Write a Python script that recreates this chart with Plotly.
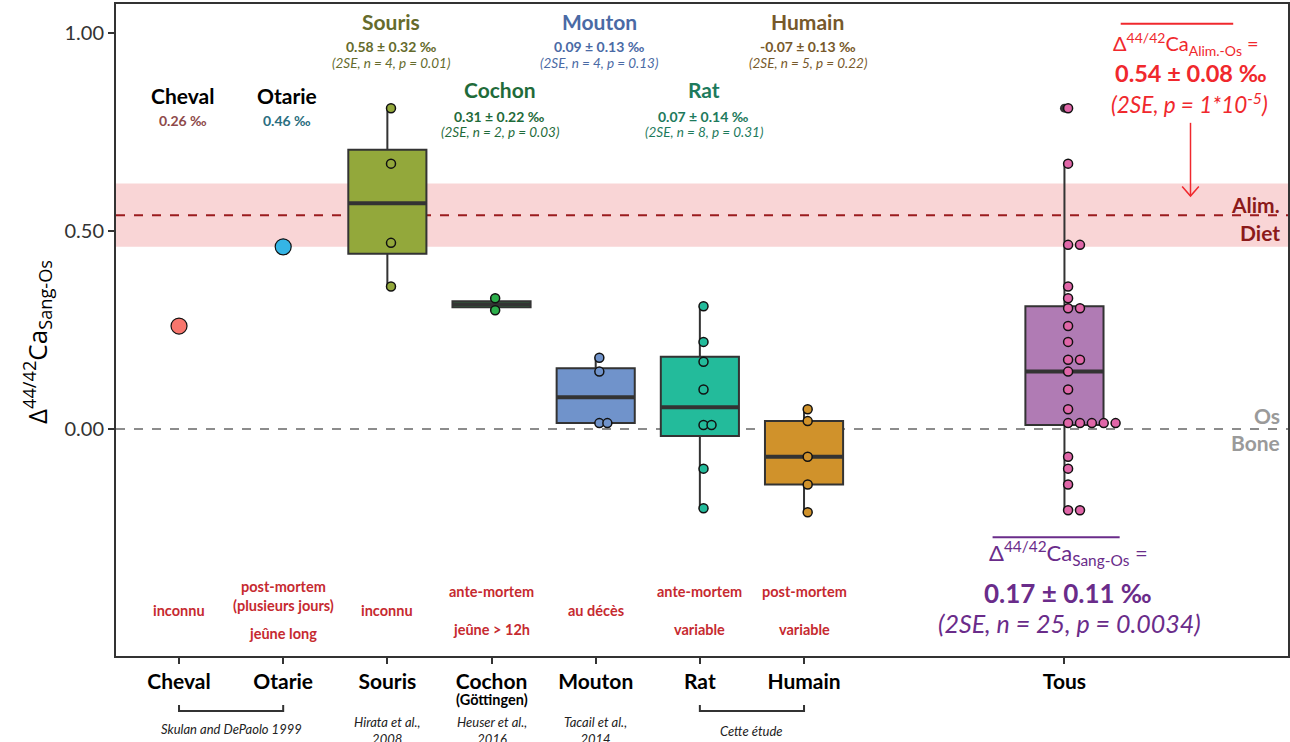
import numpy as np
import plotly.graph_objects as go

FONT = "Lato"

# categories and positions on the x axis
categories = ["Cheval", "Otarie", "Souris", "Cochon", "Mouton", "Rat", "Humain"]
positions = [1, 2, 3, 4, 5, 6, 7]
tous_position = 9.5

# Delta 44/42 Ca blood - bone values (permil)
cheval = [0.26]
otarie = [0.46]
souris = [0.81, 0.67, 0.47, 0.36]
cochon = [0.33, 0.30]
mouton = [0.18, 0.145, 0.015, 0.015]
rat = [0.31, 0.22, 0.17, 0.10, 0.01, 0.01, -0.10, -0.20]
humain = [0.05, 0.02, -0.07, -0.14, -0.21]
tous = cheval + otarie + souris + cochon + mouton + rat + humain

# diet - bone offset
diet_mean = 0.54
diet_2se = 0.08

# text above each group
group_means = ["0.26 ‰", "0.46 ‰", "0.58 ± 0.32 ‰", "0.31 ± 0.22 ‰",
               "0.09 ± 0.13 ‰", "0.07 ± 0.14 ‰", "-0.07 ± 0.13 ‰"]
group_stats = ["", "", "(2SE, n = 4, p = 0.01)", "(2SE, n = 2, p = 0.03)",
               "(2SE, n = 4, p = 0.13)", "(2SE, n = 8, p = 0.31)", "(2SE, n = 5, p = 0.22)"]
title_colors = ["#000000", "#000000", "#656b2c", "#1f6b3a", "#4a6aa5", "#1d7a5c", "#77592b"]
stat_colors = ["#8e4a4a", "#2a6e80", "#656b2c", "#1f6b3a", "#4a6aa5", "#1d7a5c", "#77592b"]
# 0 = upper row, 1 = lower row, 2 = single values
title_row = [2, 2, 0, 1, 0, 1, 0]

# conditions (bottom of the plot)
cond_top = ["", "post-mortem<br>(plusieurs jours)", "", "ante-mortem", "", "ante-mortem", "post-mortem"]
cond_mid = ["inconnu", "", "inconnu", "", "au décès", "", ""]
cond_bottom = ["", "jeûne long", "", "jeûne > 12h", "", "variable", "variable"]

tick_text = ["Cheval", "Otarie", "Souris", "Cochon", "Mouton", "Rat", "Humain", "Tous"]

box_fill = {"Souris": "#93a83b", "Cochon": "#2caf4b", "Mouton": "#7093cb",
            "Rat": "#23bb9b", "Humain": "#d0922b"}
point_color = {"Cheval": "#f8766d", "Otarie": "#35b5e5", "Souris": "#93a83b", "Cochon": "#2caf4b",
               "Mouton": "#7093cb", "Rat": "#23bb9b", "Humain": "#d0922b"}
TOUS_BOX = "#b07bb4"
TOUS_POINT = "#e066a8"
DARK = "#333333"
COND_RED = "#c62a30"
ALIM_RED = "#f0282d"
PURPLE = "#6a2c8a"

data = {"Cheval": cheval, "Otarie": otarie, "Souris": souris, "Cochon": cochon,
        "Mouton": mouton, "Rat": rat, "Humain": humain}


def box_stats(values):
    v = np.asarray(values)
    q1, med, q3 = np.percentile(v, [25, 50, 75])
    iqr = q3 - q1
    lo = v[v >= q1 - 1.5 * iqr].min()
    hi = v[v <= q3 + 1.5 * iqr].max()
    out = v[(v < lo) | (v > hi)]
    return q1, med, q3, lo, hi, out


def dot_positions(values, center, step, binwidth=0.0125):
    # simple dotplot stacking: close values are put side by side
    vals = sorted(values)
    xs, ys = [], []
    i = 0
    while i < len(vals):
        j = i
        while j + 1 < len(vals) and vals[j + 1] < vals[i] + binwidth:
            j += 1
        grp = vals[i:j + 1]
        yc = (grp[0] + grp[-1]) / 2
        for k in range(len(grp)):
            xs.append(center + 0.035 + k * step)
            ys.append(yc)
        i = j + 1
    return xs, ys


fig = go.Figure()
box_width = 0.75


def add_box(pos, values, fill):
    q1, med, q3, lo, hi, out = box_stats(values)
    fig.add_trace(go.Box(x=[pos], q1=[q1], median=[med], q3=[q3],
                         lowerfence=[lo], upperfence=[hi], width=box_width,
                         fillcolor=fill, line=dict(color=DARK, width=2),
                         boxpoints=False, whiskerwidth=0,
                         showlegend=False, hoverinfo="skip"))
    fig.add_trace(go.Scatter(x=[pos - box_width / 2, pos + box_width / 2], y=[med, med],
                             mode="lines", line=dict(color=DARK, width=4),
                             showlegend=False, hoverinfo="skip"))
    if len(out):
        fig.add_trace(go.Scatter(x=[pos] * len(out), y=out, mode="markers",
                                 marker=dict(color=DARK, size=9),
                                 showlegend=False, hoverinfo="skip"))


for name, pos in zip(categories, positions):
    if name in box_fill:
        add_box(pos, data[name], box_fill[name])
add_box(tous_position, tous, TOUS_BOX)

# points
for name, pos in zip(categories, positions):
    vals = data[name]
    if len(vals) == 1:
        fig.add_trace(go.Scatter(x=[pos], y=vals, mode="markers",
                                 marker=dict(color=point_color[name], size=16,
                                             line=dict(color="#111111", width=1.2)),
                                 showlegend=False))
    else:
        xs, ys = dot_positions(vals, pos, 0.077)
        fig.add_trace(go.Scatter(x=xs, y=ys, mode="markers",
                                 marker=dict(color=point_color[name], size=9,
                                             line=dict(color="#111111", width=1.5)),
                                 showlegend=False))

xs, ys = dot_positions(tous, tous_position, 0.114)
fig.add_trace(go.Scatter(x=xs, y=ys, mode="markers",
                         marker=dict(color=TOUS_POINT, size=9, line=dict(color="#111111", width=1.5)),
                         showlegend=False))

# diet band and reference lines
fig.add_shape(type="rect", xref="paper", yref="y", x0=0, x1=1,
              y0=diet_mean - diet_2se, y1=diet_mean + diet_2se,
              fillcolor="#f9d5d6", line=dict(width=0), layer="below")
fig.add_shape(type="line", xref="paper", yref="y", x0=0, x1=1, y0=diet_mean, y1=diet_mean,
              line=dict(color="#9b1b1e", width=2, dash="dash"), layer="below")
fig.add_shape(type="line", xref="paper", yref="y", x0=0, x1=1, y0=0, y1=0,
              line=dict(color="#8c8c8c", width=2, dash="dash"), layer="below")

ann = []


def txt(x, y, text, size, color, bold=False, italic=False, xanchor="center", family=FONT, **kw):
    if bold:
        text = "<b>" + text + "</b>"
    if italic:
        text = "<i>" + text + "</i>"
    d = dict(x=x, y=y, text=text, showarrow=False, xanchor=xanchor, yanchor="middle",
             font=dict(family=family, size=size, color=color))
    d.update(kw)
    ann.append(d)


# titles and stats above groups
row_y = {0: (1.028, 0.965, 0.924), 1: (0.856, 0.790, 0.751), 2: (0.841, 0.778, None)}
for i, name in enumerate(categories):
    ty, my, sy = row_y[title_row[i]]
    xo = positions[i] + (0.077 if name == "Cochon" else 0.035)
    txt(xo, ty, name, 21, title_colors[i], bold=True)
    txt(xo, my, group_means[i], 14, stat_colors[i], bold=True)
    if group_stats[i]:
        txt(xo, sy, group_stats[i], 13.5, stat_colors[i], italic=True)

# conditions
for i, pos in enumerate(positions):
    if cond_top[i]:
        y = -0.422 if "<br>" in cond_top[i] else -0.409
        txt(pos, y, cond_top[i], 14.5, COND_RED, bold=True)
    if cond_mid[i]:
        txt(pos, -0.457, cond_mid[i], 14.5, COND_RED, bold=True)
    if cond_bottom[i]:
        y = -0.515 if i == 1 else -0.505
        txt(pos, y, cond_bottom[i], 14.5, COND_RED, bold=True)

# right side labels
txt(11.59, 0.566, "Alim.", 21, "#8b1a1a", bold=True, xanchor="right")
txt(11.59, 0.497, "Diet", 21, "#8b1a1a", bold=True, xanchor="right")
txt(11.59, 0.035, "Os", 21, "#9a9a9a", bold=True, xanchor="right")
txt(11.59, -0.033, "Bone", 21, "#9a9a9a", bold=True, xanchor="right")

# diet annotation
txt(10.67, 0.972, "Δ<sup>44/42</sup>Ca<sub>Alim.-Os</sub> =", 20, ALIM_RED)
txt(10.71, 0.898, "0.54 ± 0.08 ‰", 23.5, ALIM_RED, bold=True)
txt(10.70, 0.824, "(2SE, p = 1*10<sup>-5</sup>)", 22.5, ALIM_RED, italic=True)
fig.add_shape(type="line", xref="x", yref="y", x0=10.04, x1=11.12, y0=1.023, y1=1.023,
              line=dict(color=ALIM_RED, width=2))
fig.add_shape(type="line", xref="x", yref="y", x0=10.71, x1=10.71, y0=0.773, y1=0.588,
              line=dict(color=ALIM_RED, width=1.5))
fig.add_shape(type="path", xref="x", yref="y",
              path="M 10.63 0.612 L 10.71 0.588 L 10.79 0.612",
              line=dict(color=ALIM_RED, width=1.5))

# blood - bone annotation
txt(9.54, -0.313, "Δ<sup>44/42</sup>Ca<sub>Sang-Os</sub> =", 22, PURPLE)
txt(9.53, -0.415, "0.17 ± 0.11 ‰", 26, PURPLE, bold=True)
txt(9.55, -0.490, "(2SE, n = 25, p = 0.0034)", 25, PURPLE, italic=True)
fig.add_shape(type="line", xref="x", yref="y", x0=8.81, x1=10.03, y0=-0.273, y1=-0.273,
              line=dict(color=PURPLE, width=2))

# y axis title
txt(-0.0674, 0.4816, "Δ<sup>44/42</sup>Ca<sub>Sang-Os</sub>", 26, "#000000",
    family="Open Sans", xref="paper", yref="paper", textangle=-90)

# second line of the Cochon tick label
txt(4, -0.066, "(Göttingen)", 14.5, "#000000", bold=True, yref="paper")

# references below the axis
txt(1.5, -0.112, "Skulan and DePaolo 1999", 13, "#222222", italic=True, yref="paper")
txt(3, -0.115, "Hirata et al.,<br>2008", 13, "#222222", italic=True, yref="paper")
txt(4, -0.115, "Heuser et al.,<br>2016", 13, "#222222", italic=True, yref="paper")
txt(5, -0.115, "Tacail et al.,<br>2014", 13, "#222222", italic=True, yref="paper")
txt(6.5, -0.115, "Cette étude", 13, "#222222", italic=True, yref="paper")
for a, b in [(1, 2), (6, 7)]:
    fig.add_shape(type="path", xref="x", yref="paper",
                  path=f"M {a} -0.0752 L {a} -0.0844 L {b} -0.0844 L {b} -0.0752",
                  line=dict(color=DARK, width=2))

fig.update_layout(
    width=1290, height=742,
    margin=dict(l=116, r=2, t=4, b=86, autoexpand=False),
    plot_bgcolor="white", paper_bgcolor="white",
    font=dict(family=FONT, color="#222222"),
    annotations=ann,
    showlegend=False,
)
fig.update_xaxes(range=[0.395, 11.646], tickvals=positions + [tous_position],
                 ticktext=["<b>" + t + "</b>" for t in tick_text],
                 tickfont=dict(family=FONT, size=21, color="#000000"),
                 showline=True, mirror=True, linecolor=DARK, linewidth=2,
                 ticks="outside", ticklen=6, tickwidth=2, tickcolor=DARK,
                 ticklabelstandoff=0, showgrid=False, zeroline=False)
fig.update_yaxes(range=[-0.573, 1.073], tickvals=[0, 0.5, 1.0], ticktext=["0.00", "0.50", "1.00"],
                 tickfont=dict(family=FONT, size=20, color="#333333"),
                 showline=True, mirror=True, linecolor=DARK, linewidth=2,
                 ticks="outside", ticklen=6, tickwidth=2, tickcolor=DARK,
                 showgrid=False, zeroline=False)

fig.write_html("out.html", config={"displayModeBar": False},
               post_script="document.body.style.margin='0px';")
